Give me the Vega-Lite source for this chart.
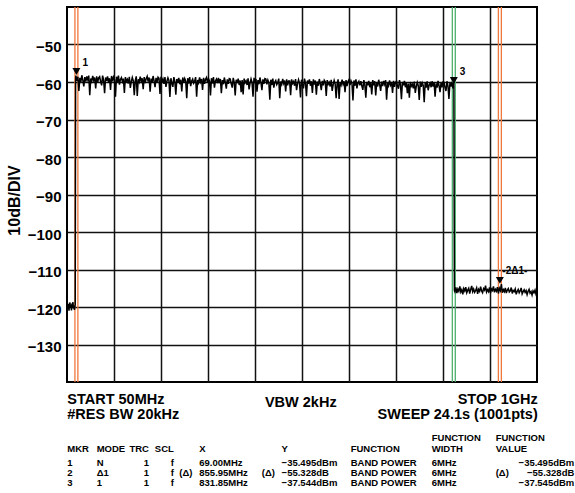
{
"$schema":"https://vega.github.io/schema/vega-lite/v6.json",
"width":470,"height":375,
"autosize":{"type":"none"},
"padding":{"left":67,"top":7,"right":38,"bottom":111},
"background":"white",
"config":{"view":{"stroke":"#000","strokeWidth":2},"axis":{"gridColor":"#111","gridWidth":1.5,"gridOpacity":1}},
"datasets":{
"trace":[
{"f":50,"p":-119.8},{"f":51,"p":-118.9},{"f":52,"p":-120.6},{"f":53,"p":-119.2},{"f":54,"p":-121.0},{"f":55,"p":-119.5},{"f":56,"p":-118.8},{"f":57,"p":-120.2},{"f":58,"p":-119.4},{"f":59,"p":-120.9},{"f":60,"p":-119.1},{"f":61,"p":-119.9},{"f":62,"p":-118.7},{"f":63,"p":-120.4},{"f":64,"p":-119.6},{"f":65,"p":-120.8},{"f":66.6,"p":-119.3},
{"f":67.4,"p":-59.0},
{"f":68,"p":-58.3},{"f":70,"p":-59.7},{"f":72,"p":-58.6},{"f":74,"p":-62.4},{"f":76,"p":-58.9},{"f":78,"p":-60.0},{"f":80,"p":-58.2},{"f":82,"p":-59.5},{"f":84,"p":-61.2},{"f":86,"p":-58.7},{"f":88,"p":-59.9},{"f":90,"p":-58.5},
{"f":92,"p":-59.4},{"f":94,"p":-58.3},{"f":96,"p":-63.5},{"f":98,"p":-59.1},{"f":100,"p":-59.8},{"f":102,"p":-58.4},{"f":104,"p":-59.6},{"f":106,"p":-58.8},{"f":108,"p":-61.7},{"f":110,"p":-58.5},{"f":112,"p":-60.1},{"f":114,"p":-58.9},
{"f":116,"p":-58.6},{"f":118,"p":-59.9},{"f":120,"p":-60.9},{"f":122,"p":-58.3},{"f":124,"p":-59.5},{"f":126,"p":-63.0},{"f":128,"p":-58.8},{"f":130,"p":-59.7},{"f":132,"p":-58.5},{"f":134,"p":-60.2},{"f":136,"p":-59.0},{"f":138,"p":-62.1},
{"f":140,"p":-58.4},{"f":142,"p":-59.8},{"f":144,"p":-58.7},{"f":146,"p":-59.4},{"f":148,"p":-63.9},{"f":150,"p":-58.6},{"f":152,"p":-60.0},{"f":154,"p":-58.3},{"f":156,"p":-60.7},{"f":158,"p":-59.3},{"f":160,"p":-58.8},{"f":162,"p":-59.9},
{"f":164,"p":-59.1},{"f":166,"p":-62.9},{"f":168,"p":-58.7},{"f":170,"p":-59.8},{"f":172,"p":-59.3},{"f":174,"p":-60.4},{"f":176,"p":-58.6},{"f":178,"p":-61.6},{"f":180,"p":-59.9},{"f":182,"p":-58.8},{"f":184,"p":-59.7},{"f":186,"p":-63.5},
{"f":188,"p":-59.6},{"f":190,"p":-58.5},{"f":192,"p":-63.7},{"f":194,"p":-59.3},{"f":196,"p":-60.0},{"f":198,"p":-58.6},{"f":200,"p":-59.8},{"f":202,"p":-59.0},{"f":204,"p":-61.9},{"f":206,"p":-58.7},{"f":208,"p":-60.3},{"f":210,"p":-59.1},
{"f":212,"p":-58.5},{"f":214,"p":-59.9},{"f":216,"p":-58.8},{"f":218,"p":-62.6},{"f":220,"p":-59.1},{"f":222,"p":-60.2},{"f":224,"p":-58.4},{"f":226,"p":-59.7},{"f":228,"p":-61.4},{"f":230,"p":-58.9},{"f":232,"p":-60.1},{"f":234,"p":-58.7},
{"f":236,"p":-59.0},{"f":238,"p":-63.2},{"f":240,"p":-58.6},{"f":242,"p":-59.9},{"f":244,"p":-59.2},{"f":246,"p":-60.5},{"f":248,"p":-58.7},{"f":250,"p":-61.3},{"f":252,"p":-59.8},{"f":254,"p":-58.9},{"f":256,"p":-59.6},{"f":258,"p":-64.0},
{"f":260,"p":-59.0},{"f":262,"p":-60.3},{"f":264,"p":-61.3},{"f":266,"p":-58.7},{"f":268,"p":-59.9},{"f":270,"p":-63.4},{"f":272,"p":-59.2},{"f":274,"p":-60.1},{"f":276,"p":-58.9},{"f":278,"p":-60.6},{"f":280,"p":-59.4},{"f":282,"p":-62.5},
{"f":284,"p":-58.8},{"f":286,"p":-60.2},{"f":288,"p":-59.1},{"f":290,"p":-59.8},{"f":292,"p":-64.3},{"f":294,"p":-59.0},{"f":296,"p":-60.4},{"f":298,"p":-58.7},{"f":300,"p":-61.1},{"f":302,"p":-59.7},{"f":304,"p":-59.2},{"f":306,"p":-60.3},
{"f":308,"p":-59.8},{"f":310,"p":-58.7},{"f":312,"p":-63.9},{"f":314,"p":-59.5},{"f":316,"p":-60.2},{"f":318,"p":-58.8},{"f":320,"p":-60.0},{"f":322,"p":-59.2},{"f":324,"p":-62.1},{"f":326,"p":-58.9},{"f":328,"p":-60.5},{"f":330,"p":-59.3},
{"f":332,"p":-58.8},{"f":334,"p":-60.2},{"f":336,"p":-59.1},{"f":338,"p":-59.8},{"f":340,"p":-63.6},{"f":342,"p":-59.0},{"f":344,"p":-60.4},{"f":346,"p":-58.7},{"f":348,"p":-61.5},{"f":350,"p":-59.7},{"f":352,"p":-59.2},{"f":354,"p":-60.3},
{"f":356,"p":-58.9},{"f":358,"p":-60.3},{"f":360,"p":-59.2},{"f":362,"p":-63.0},{"f":364,"p":-59.5},{"f":366,"p":-60.6},{"f":368,"p":-58.8},{"f":370,"p":-60.1},{"f":372,"p":-61.8},{"f":374,"p":-59.3},{"f":376,"p":-60.5},{"f":378,"p":-59.1},
{"f":380,"p":-59.2},{"f":382,"p":-60.5},{"f":384,"p":-61.5},{"f":386,"p":-58.9},{"f":388,"p":-60.1},{"f":390,"p":-63.6},{"f":392,"p":-59.4},{"f":394,"p":-60.3},{"f":396,"p":-59.1},{"f":398,"p":-60.8},{"f":400,"p":-59.6},{"f":402,"p":-62.7},
{"f":404,"p":-59.5},{"f":406,"p":-63.3},{"f":408,"p":-59.1},{"f":410,"p":-60.2},{"f":412,"p":-59.7},{"f":414,"p":-60.8},{"f":416,"p":-59.0},{"f":418,"p":-62.0},{"f":420,"p":-60.3},{"f":422,"p":-59.2},{"f":424,"p":-60.1},{"f":426,"p":-63.9},
{"f":428,"p":-58.9},{"f":430,"p":-60.3},{"f":432,"p":-59.2},{"f":434,"p":-62.6},{"f":436,"p":-59.5},{"f":438,"p":-60.6},{"f":440,"p":-58.8},{"f":442,"p":-60.1},{"f":444,"p":-62.2},{"f":446,"p":-59.3},{"f":448,"p":-60.5},{"f":450,"p":-59.1},
{"f":452,"p":-59.2},{"f":454,"p":-60.6},{"f":456,"p":-59.5},{"f":458,"p":-60.2},{"f":460,"p":-64.7},{"f":462,"p":-59.4},{"f":464,"p":-60.8},{"f":466,"p":-59.1},{"f":468,"p":-61.5},{"f":470,"p":-60.1},{"f":472,"p":-59.6},{"f":474,"p":-60.7},
{"f":476,"p":-60.2},{"f":478,"p":-59.1},{"f":480,"p":-64.3},{"f":482,"p":-59.9},{"f":484,"p":-60.6},{"f":486,"p":-59.2},{"f":488,"p":-60.4},{"f":490,"p":-59.6},{"f":492,"p":-62.5},{"f":494,"p":-59.3},{"f":496,"p":-60.9},{"f":498,"p":-59.7},
{"f":500,"p":-59.7},{"f":502,"p":-63.5},{"f":504,"p":-59.3},{"f":506,"p":-60.4},{"f":508,"p":-59.9},{"f":510,"p":-61.0},{"f":512,"p":-59.2},{"f":514,"p":-62.2},{"f":516,"p":-60.5},{"f":518,"p":-59.4},{"f":520,"p":-60.3},{"f":522,"p":-64.1},
{"f":524,"p":-59.4},{"f":526,"p":-60.7},{"f":528,"p":-61.7},{"f":530,"p":-59.1},{"f":532,"p":-60.3},{"f":534,"p":-63.8},{"f":536,"p":-59.6},{"f":538,"p":-60.5},{"f":540,"p":-59.3},{"f":542,"p":-61.0},{"f":544,"p":-59.8},{"f":546,"p":-62.9},
{"f":548,"p":-59.3},{"f":550,"p":-60.7},{"f":552,"p":-59.6},{"f":554,"p":-63.4},{"f":556,"p":-59.9},{"f":558,"p":-61.0},{"f":560,"p":-59.2},{"f":562,"p":-60.5},{"f":564,"p":-62.2},{"f":566,"p":-59.7},{"f":568,"p":-60.9},{"f":570,"p":-59.5},
{"f":572,"p":-59.9},{"f":574,"p":-63.7},{"f":576,"p":-59.5},{"f":578,"p":-60.6},{"f":580,"p":-60.1},{"f":582,"p":-61.2},{"f":584,"p":-59.4},{"f":586,"p":-62.4},{"f":588,"p":-60.7},{"f":590,"p":-59.6},{"f":592,"p":-60.5},{"f":594,"p":-64.3},
{"f":596,"p":-60.4},{"f":598,"p":-59.3},{"f":600,"p":-64.5},{"f":602,"p":-60.1},{"f":604,"p":-60.8},{"f":606,"p":-59.4},{"f":608,"p":-60.6},{"f":610,"p":-59.8},{"f":612,"p":-62.7},{"f":614,"p":-59.5},{"f":616,"p":-61.1},{"f":618,"p":-59.9},
{"f":620,"p":-59.4},{"f":622,"p":-60.8},{"f":624,"p":-59.7},{"f":626,"p":-60.4},{"f":628,"p":-64.9},{"f":630,"p":-59.6},{"f":632,"p":-61.0},{"f":634,"p":-59.3},{"f":636,"p":-61.7},{"f":638,"p":-60.3},{"f":640,"p":-59.8},{"f":642,"p":-60.9},
{"f":644,"p":-59.8},{"f":646,"p":-61.1},{"f":648,"p":-62.1},{"f":650,"p":-59.5},{"f":652,"p":-60.7},{"f":654,"p":-64.2},{"f":656,"p":-60.0},{"f":658,"p":-60.9},{"f":660,"p":-59.7},{"f":662,"p":-61.4},{"f":664,"p":-60.2},{"f":666,"p":-63.3},
{"f":668,"p":-59.5},{"f":670,"p":-60.9},{"f":672,"p":-59.8},{"f":674,"p":-63.6},{"f":676,"p":-60.1},{"f":678,"p":-61.2},{"f":680,"p":-59.4},{"f":682,"p":-60.7},{"f":684,"p":-62.4},{"f":686,"p":-59.9},{"f":688,"p":-61.1},{"f":690,"p":-59.7},
{"f":692,"p":-60.6},{"f":694,"p":-59.5},{"f":696,"p":-64.7},{"f":698,"p":-60.3},{"f":700,"p":-61.0},{"f":702,"p":-59.6},{"f":704,"p":-60.8},{"f":706,"p":-60.0},{"f":708,"p":-62.9},{"f":710,"p":-59.7},{"f":712,"p":-61.3},{"f":714,"p":-60.1},
{"f":716,"p":-59.8},{"f":718,"p":-61.1},{"f":720,"p":-61.8},{"f":722,"p":-59.5},{"f":724,"p":-60.7},{"f":726,"p":-64.6},{"f":728,"p":-60.0},{"f":730,"p":-60.9},{"f":732,"p":-59.7},{"f":734,"p":-61.4},{"f":736,"p":-60.2},{"f":738,"p":-63.0},
{"f":740,"p":-60.4},{"f":742,"p":-64.2},{"f":744,"p":-60.0},{"f":746,"p":-61.1},{"f":748,"p":-60.6},{"f":750,"p":-61.7},{"f":752,"p":-59.9},{"f":754,"p":-62.9},{"f":756,"p":-61.2},{"f":758,"p":-60.1},{"f":760,"p":-61.0},{"f":762,"p":-64.8},
{"f":764,"p":-59.9},{"f":766,"p":-61.3},{"f":768,"p":-60.2},{"f":770,"p":-60.9},{"f":772,"p":-65.4},{"f":774,"p":-60.1},{"f":776,"p":-61.5},{"f":778,"p":-59.8},{"f":780,"p":-62.2},{"f":782,"p":-60.8},{"f":784,"p":-60.3},{"f":786,"p":-61.4},
{"f":788,"p":-59.8},{"f":790,"p":-61.2},{"f":792,"p":-60.1},{"f":794,"p":-63.9},{"f":796,"p":-60.4},{"f":798,"p":-61.5},{"f":800,"p":-59.7},{"f":802,"p":-61.0},{"f":804,"p":-62.7},{"f":806,"p":-60.2},{"f":808,"p":-61.4},{"f":810,"p":-60.0},
{"f":812,"p":-60.1},{"f":814,"p":-61.4},{"f":816,"p":-62.4},{"f":818,"p":-59.8},{"f":820,"p":-61.0},{"f":822,"p":-64.5},{"f":824,"p":-60.3},{"f":826,"p":-61.2},{"f":828,"p":-60.0},{"f":830,"p":-61.7},{"f":832,"p":-60.0},
{"f":833,"p":-115.6},{"f":834,"p":-115.9},{"f":836,"p":-114.8},{"f":838,"p":-116.3},{"f":840,"p":-115.2},{"f":842,"p":-115.8},{"f":844,"p":-114.5},{"f":846,"p":-116.0},{"f":848,"p":-115.4},{"f":850,"p":-116.6},{"f":852,"p":-115.1},{"f":854,"p":-115.7},{"f":856,"p":-114.7},{"f":858,"p":-116.2},{"f":860,"p":-115.5},{"f":862,"p":-115.0},{"f":864,"p":-116.4},{"f":866,"p":-115.3},{"f":868,"p":-114.4},{"f":870,"p":-115.9},{"f":872,"p":-115.2},{"f":874,"p":-116.1},{"f":876,"p":-115.6},{"f":878,"p":-114.9},{"f":880,"p":-116.5},{"f":882,"p":-115.3},{"f":884,"p":-115.8},{"f":886,"p":-114.6},{"f":888,"p":-115.7},{"f":890,"p":-116.2},{"f":892,"p":-115.1},{"f":894,"p":-115.5},{"f":896,"p":-114.3},{"f":898,"p":-116.0},{"f":900,"p":-115.4},{"f":902,"p":-115.9},{"f":904,"p":-114.8},{"f":906,"p":-116.3},{"f":908,"p":-115.2},{"f":910,"p":-115.6},{"f":912,"p":-114.5},{"f":914,"p":-116.1},{"f":916,"p":-115.3},{"f":918,"p":-115.8},{"f":920,"p":-114.7},{"f":922,"p":-116.4},{"f":924,"p":-115.0},{"f":926,"p":-115.6},{"f":928,"p":-113.9},{"f":930,"p":-116.2},{"f":932,"p":-115.4},{"f":934,"p":-115.9},{"f":936,"p":-114.9},{"f":938,"p":-116.3},{"f":940,"p":-115.5},{"f":942,"p":-115.1},{"f":944,"p":-116.0},{"f":946,"p":-115.7},{"f":948,"p":-114.8},{"f":950,"p":-116.4},{"f":952,"p":-115.6},{"f":954,"p":-115.9},{"f":956,"p":-115.2},{"f":958,"p":-116.6},{"f":960,"p":-115.8},{"f":962,"p":-115.3},{"f":964,"p":-116.2},{"f":966,"p":-115.7},{"f":968,"p":-114.9},{"f":970,"p":-116.5},{"f":972,"p":-115.9},{"f":974,"p":-115.4},{"f":976,"p":-116.1},{"f":978,"p":-115.6},{"f":980,"p":-116.7},{"f":982,"p":-115.8},{"f":984,"p":-115.3},{"f":986,"p":-116.3},{"f":988,"p":-115.9},{"f":990,"p":-116.8},{"f":992,"p":-115.7},{"f":994,"p":-116.2},{"f":996,"p":-115.5},{"f":998,"p":-116.6},{"f":1000,"p":-116.0}
],
"markers":[
{"mkr":"1","f":69,"p":-57.2,"label":"1"},
{"mkr":"2","f":924.95,"p":-112.9,"label":"-2Δ1-"},
{"mkr":"3","f":831.85,"p":-59.6,"label":"3"}
],
"lines":[
{"f":66,"g":"o"},{"f":72,"g":"o"},{"f":828.85,"g":"g"},{"f":834.85,"g":"g"},{"f":921.95,"g":"o"},{"f":927.95,"g":"o"}
],
"info":[
{"pos":"start","t":"START 50MHz\n#RES BW 20kHz"},
{"pos":"center","t":"VBW 2kHz"},
{"pos":"stop","t":"STOP 1GHz\nSWEEP 24.1s (1001pts)"}
],
"table":[
{"row":-1,"mkr":"","mode":"","trc":"","scl":"","xd":"","x":"","yd":"","y":"","fn":"","fw":"FUNCTION","fvd":"FUNCTION","fv":""},
{"row":0,"mkr":"MKR","mode":"MODE","trc":"TRC","scl":"SCL","xd":"","x":"X","yd":"","y":"Y","fn":"FUNCTION","fw":"WIDTH","fvd":"VALUE","fv":""},
{"row":1,"mkr":"1","mode":"N","trc":"1","scl":"f","xd":"","x":"69.00MHz","yd":"","y":"−35.495dBm","fn":"BAND POWER","fw":"6MHz","fvd":"","fv":"−35.495dBm"},
{"row":2,"mkr":"2","mode":"Δ1","trc":"1","scl":"f","xd":"(Δ)","x":"855.95MHz","yd":"(Δ)","y":"−55.328dB","fn":"BAND POWER","fw":"6MHz","fvd":"(Δ)","fv":"−55.328dB"},
{"row":3,"mkr":"3","mode":"1","trc":"1","scl":"f","xd":"","x":"831.85MHz","yd":"","y":"−37.544dBm","fn":"BAND POWER","fw":"6MHz","fvd":"","fv":"−37.545dBm"}
]
},
"layer":[
{
"layer":[
{"data":{"name":"lines"},"mark":{"type":"rule","strokeWidth":1.3},
 "encoding":{"x":{"field":"f","type":"quantitative","scale":{"domain":[50,1000],"nice":false,"zero":false}},
  "color":{"field":"g","type":"nominal","scale":{"domain":["o","g"],"range":["#f0783c","#4caf6e"]},"legend":null}}},
{"data":{"name":"trace"},"mark":{"type":"line","color":"#000","strokeWidth":1.5},
 "encoding":{
  "x":{"field":"f","type":"quantitative","scale":{"domain":[50,1000],"nice":false,"zero":false},
       "axis":{"values":[145,240,335,430,525,620,715,810,905],"labels":false,"ticks":false,"domain":false,"title":null,"grid":true}},
  "y":{"field":"p","type":"quantitative","scale":{"domain":[-140,-40],"nice":false,"zero":false},
       "axis":{"values":[-130,-120,-110,-100,-90,-80,-70,-60,-50],"ticks":false,"tickSize":0,"domain":false,"grid":true,
               "labelPadding":6,"labelFont":"Liberation Sans","labelFontWeight":"bold","labelFontSize":15,"labelColor":"#000","labelOffset":2,
               "title":"10dB/DIV","titleFont":"Liberation Sans","titleFontWeight":"bold","titleFontSize":16,"titleColor":"#000","titlePadding":5,"titleY":193}}}},
{"data":{"name":"markers"},"mark":{"type":"point","shape":"triangle-down","filled":true,"size":64,"color":"#000","opacity":1},
 "encoding":{"x":{"field":"f","type":"quantitative","scale":{"domain":[50,1000]}},"y":{"field":"p","type":"quantitative","scale":{"domain":[-140,-40]}}}},
{"data":{"name":"markers"},"transform":[{"filter":"datum.mkr !== '2'"}],
 "mark":{"type":"text","align":"left","baseline":"alphabetic","dx":6,"dy":-6,"font":"Liberation Sans","fontWeight":"bold","fontSize":10,"color":"#000"},
 "encoding":{"x":{"field":"f","type":"quantitative","scale":{"domain":[50,1000]}},"y":{"field":"p","type":"quantitative","scale":{"domain":[-140,-40]}},"text":{"field":"label"}}},
{"data":{"name":"markers"},"transform":[{"filter":"datum.mkr === '2'"}],
 "mark":{"type":"text","align":"left","baseline":"alphabetic","dx":2.5,"dy":-6.5,"font":"Liberation Sans","fontWeight":"bold","fontSize":10,"color":"#000"},
 "encoding":{"x":{"field":"f","type":"quantitative","scale":{"domain":[50,1000]}},"y":{"field":"p","type":"quantitative","scale":{"domain":[-140,-40]}},"text":{"field":"label"}}},
{"data":{"name":"info"},"transform":[{"filter":"datum.pos === 'start'"}],
 "mark":{"type":"text","align":"left","baseline":"alphabetic","dy":22,"lineBreak":"\n","lineHeight":14.5,"font":"Liberation Sans","fontWeight":"bold","fontSize":14.5,"color":"#000"},
 "encoding":{"x":{"datum":50.5,"scale":{"domain":[50,1000]}},"y":{"datum":-140,"scale":{"domain":[-140,-40]}},"text":{"field":"t"}}},
{"data":{"name":"info"},"transform":[{"filter":"datum.pos === 'center'"}],
 "mark":{"type":"text","align":"center","baseline":"alphabetic","dy":24.5,"font":"Liberation Sans","fontWeight":"bold","fontSize":14.5,"color":"#000"},
 "encoding":{"x":{"datum":522.6,"scale":{"domain":[50,1000]}},"y":{"datum":-140,"scale":{"domain":[-140,-40]}},"text":{"field":"t"}}},
{"data":{"name":"info"},"transform":[{"filter":"datum.pos === 'stop'"}],
 "mark":{"type":"text","align":"right","baseline":"alphabetic","dy":22,"lineBreak":"\n","lineHeight":14.5,"font":"Liberation Sans","fontWeight":"bold","fontSize":14.5,"color":"#000"},
 "encoding":{"x":{"datum":1001.5,"scale":{"domain":[50,1000]}},"y":{"datum":-140,"scale":{"domain":[-140,-40]}},"text":{"field":"t"}}}
]
},
{
"data":{"name":"table"},
"encoding":{"y":{"field":"row","type":"quantitative","scale":{"domain":[-1,0,1,3],"range":[434,444.5,458.5,478.5],"nice":false,"zero":false},"axis":null}},
"layer":[
{"mark":{"type":"text","align":"left","baseline":"alphabetic","font":"Liberation Sans","fontWeight":"bold","fontSize":9.5,"color":"#000"},"encoding":{"x":{"datum":50.5,"scale":{"domain":[50,1000]}},"text":{"field":"mkr"}}},
{"mark":{"type":"text","align":"left","baseline":"alphabetic","font":"Liberation Sans","fontWeight":"bold","fontSize":9.5,"color":"#000"},"encoding":{"x":{"datum":110,"scale":{"domain":[50,1000]}},"text":{"field":"mode"}}},
{"mark":{"type":"text","align":"right","baseline":"alphabetic","font":"Liberation Sans","fontWeight":"bold","fontSize":9.5,"color":"#000"},"encoding":{"x":{"datum":215.7,"scale":{"domain":[50,1000]}},"text":{"field":"trc"}}},
{"mark":{"type":"text","align":"right","baseline":"alphabetic","font":"Liberation Sans","fontWeight":"bold","fontSize":9.5,"color":"#000"},"encoding":{"x":{"datum":266,"scale":{"domain":[50,1000]}},"text":{"field":"scl"}}},
{"mark":{"type":"text","align":"left","baseline":"alphabetic","font":"Liberation Sans","fontWeight":"bold","fontSize":9.5,"color":"#000"},"encoding":{"x":{"datum":277,"scale":{"domain":[50,1000]}},"text":{"field":"xd"}}},
{"mark":{"type":"text","align":"left","baseline":"alphabetic","font":"Liberation Sans","fontWeight":"bold","fontSize":9.5,"color":"#000"},"encoding":{"x":{"datum":317.4,"scale":{"domain":[50,1000]}},"text":{"field":"x"}}},
{"mark":{"type":"text","align":"left","baseline":"alphabetic","font":"Liberation Sans","fontWeight":"bold","fontSize":9.5,"color":"#000"},"encoding":{"x":{"datum":443.6,"scale":{"domain":[50,1000]}},"text":{"field":"yd"}}},
{"mark":{"type":"text","align":"left","baseline":"alphabetic","font":"Liberation Sans","fontWeight":"bold","fontSize":9.5,"color":"#000"},"encoding":{"x":{"datum":483.8,"scale":{"domain":[50,1000]}},"text":{"field":"y"}}},
{"mark":{"type":"text","align":"left","baseline":"alphabetic","font":"Liberation Sans","fontWeight":"bold","fontSize":9.5,"color":"#000"},"encoding":{"x":{"datum":623.4,"scale":{"domain":[50,1000]}},"text":{"field":"fn"}}},
{"mark":{"type":"text","align":"left","baseline":"alphabetic","font":"Liberation Sans","fontWeight":"bold","fontSize":9.5,"color":"#000"},"encoding":{"x":{"datum":787.2,"scale":{"domain":[50,1000]}},"text":{"field":"fw"}}},
{"mark":{"type":"text","align":"left","baseline":"alphabetic","font":"Liberation Sans","fontWeight":"bold","fontSize":9.5,"color":"#000"},"encoding":{"x":{"datum":916.5,"scale":{"domain":[50,1000]}},"text":{"field":"fvd"}}},
{"mark":{"type":"text","align":"right","baseline":"alphabetic","font":"Liberation Sans","fontWeight":"bold","fontSize":9.5,"color":"#000"},"encoding":{"x":{"datum":1075.4,"scale":{"domain":[50,1000]}},"text":{"field":"fv"}}}
]
}
],
"resolve":{"scale":{"y":"independent"},"axis":{"y":"independent"}}
}
